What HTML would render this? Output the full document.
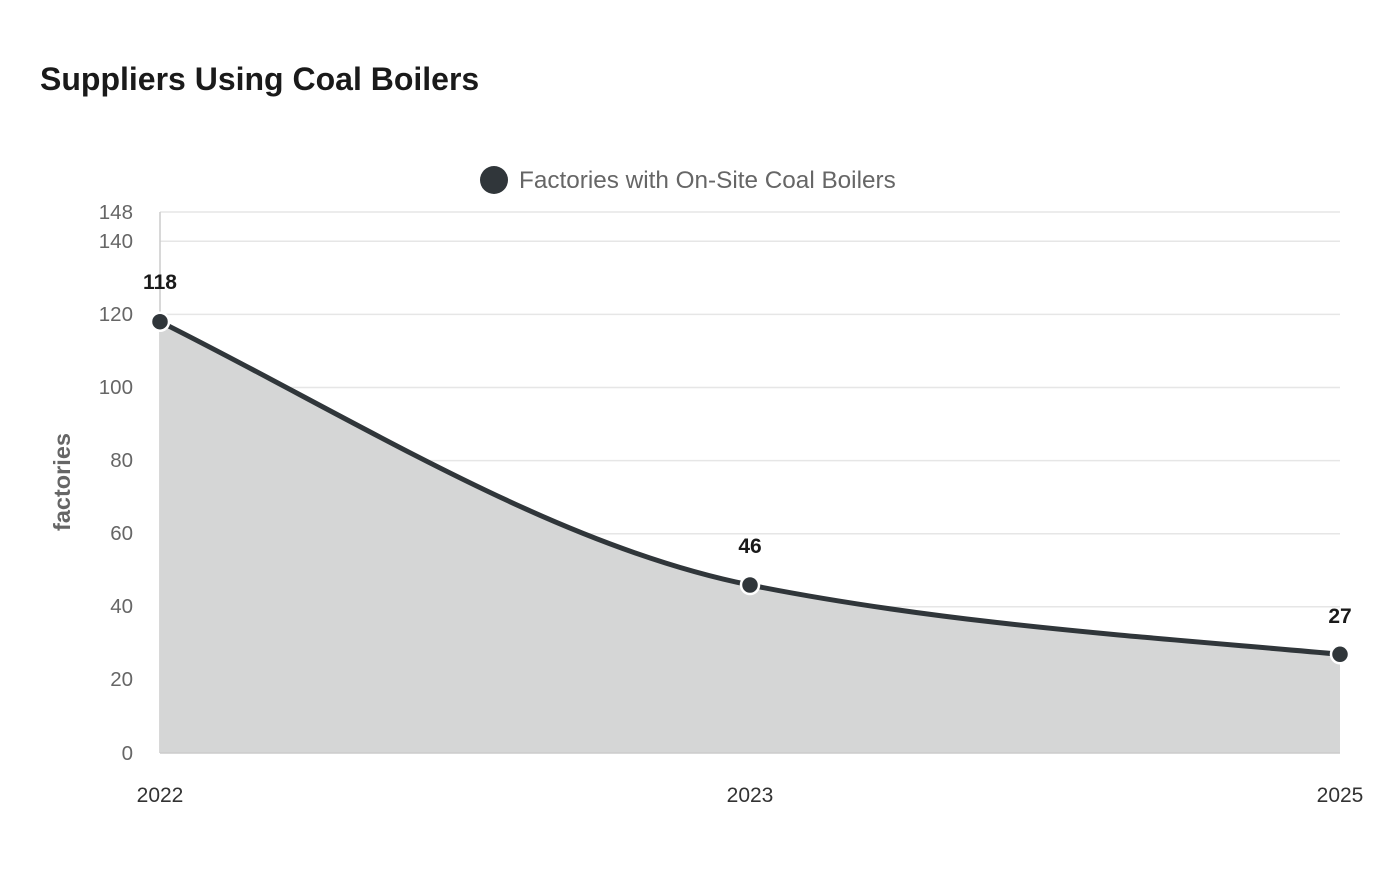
<!DOCTYPE html>
<html><head><meta charset="utf-8"><style>
body{margin:0;background:#fff;}
svg{display:block;font-family:"Liberation Sans",sans-serif;}
</style></head><body>
<svg width="1400" height="880" viewBox="0 0 1400 880">
<text x="40" y="90" font-size="32" font-weight="bold" fill="#1a1a1a">Suppliers Using Coal Boilers</text>
<circle cx="494" cy="180" r="14" fill="#30363a"/>
<text x="519" y="188" font-size="24.3" fill="#666">Factories with On-Site Coal Boilers</text>
<g stroke="#e6e6e6" stroke-width="1.5">
<line x1="160" x2="1340" y1="212" y2="212"/>
<line x1="160" x2="1340" y1="241.3" y2="241.3"/>
<line x1="160" x2="1340" y1="314.4" y2="314.4"/>
<line x1="160" x2="1340" y1="387.5" y2="387.5"/>
<line x1="160" x2="1340" y1="460.6" y2="460.6"/>
<line x1="160" x2="1340" y1="533.7" y2="533.7"/>
<line x1="160" x2="1340" y1="606.8" y2="606.8"/>
<line x1="160" x2="1340" y1="679.9" y2="679.9"/>
</g>
<line x1="160" x2="160" y1="212" y2="753" stroke="#ccc" stroke-width="1.5"/>
<path d="M160,321.7 C356.7,420 553.3,545.6 750,585 C946.7,624.3 1143.3,636.6 1340,654.3 L1340,753 L160,753 Z" fill="#d5d6d6"/>
<path d="M160,321.7 C356.7,420 553.3,545.6 750,585 C946.7,624.3 1143.3,636.6 1340,654.3" fill="none" stroke="#30363a" stroke-width="5"/>
<line x1="160" x2="1340" y1="753" y2="753" stroke="#ccc" stroke-width="1.5"/>
<g fill="#30363a" stroke="#fff" stroke-width="2.5">
<circle cx="160" cy="321.7" r="9"/><circle cx="750" cy="585" r="9"/><circle cx="1340" cy="654.3" r="9"/>
</g>
<g font-size="21" font-weight="bold" fill="#1a1a1a" text-anchor="middle">
<text x="160" y="289">118</text><text x="750" y="553">46</text><text x="1340" y="623">27</text>
</g>
<g font-size="20.5" fill="#666" text-anchor="end">
<text x="133" y="219">148</text><text x="133" y="248">140</text><text x="133" y="321">120</text>
<text x="133" y="394">100</text><text x="133" y="467">80</text><text x="133" y="540">60</text>
<text x="133" y="613">40</text><text x="133" y="686">20</text><text x="133" y="760">0</text>
</g>
<g font-size="21" fill="#333" text-anchor="middle">
<text x="160" y="802">2022</text><text x="750" y="802">2023</text><text x="1340" y="802">2025</text>
</g>
<text transform="translate(70,482) rotate(-90)" font-size="23.5" font-weight="bold" fill="#666" text-anchor="middle">factories</text>
</svg>
</body></html>
